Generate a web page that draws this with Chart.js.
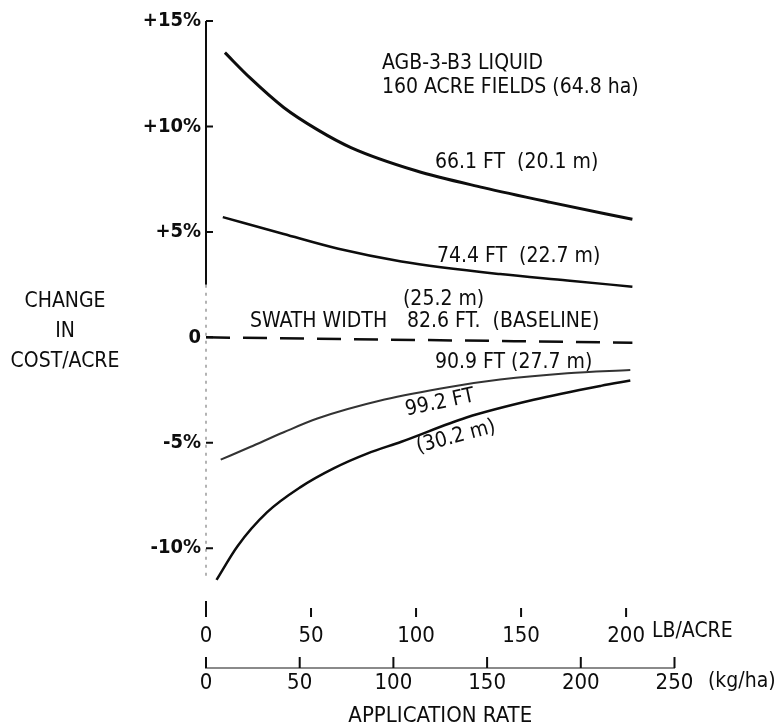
<!DOCTYPE html>
<html>
<head>
<meta charset="utf-8">
<script src="https://cdn.jsdelivr.net/npm/chart.js@4.4.0/dist/chart.umd.min.js"></script>
<style>
  html, body { margin: 0; padding: 0; background: #fff; }
  #wrap { width: 778px; height: 727px; }
</style>
</head>
<body>
<div id="wrap"><canvas id="costchart" width="778" height="727"></canvas></div>
<script>
// tick labels
const lbTicks = [0, 50, 100, 150, 200];
const kgTicks = [0, 50, 100, 150, 200, 250];
const pctTicks = [15, 10, 5, 0, -5, -10];

// series: application rate (lb/acre) vs change in cost/acre (%)
const rate661 = [9, 21, 37, 53, 69, 100, 132, 164, 203];
const cost661 = [13.5, 12.3, 10.9, 9.85, 9.0, 7.9, 7.1, 6.4, 5.6];

const rate744 = [8, 37, 63, 93, 140, 172, 203];
const cost744 = [5.7, 4.9, 4.2, 3.6, 3.0, 2.7, 2.4];

const rate826 = [0, 203];
const cost826 = [0, -0.25];

const rate909 = [7, 21, 37, 53, 85, 116, 140, 172, 202];
const cost909 = [-5.8, -5.2, -4.5, -3.85, -2.95, -2.35, -2.0, -1.7, -1.55];

const rate992 = [5, 15, 29, 45, 61, 77, 93, 124, 156, 188, 202];
const cost992 = [-11.5, -9.9, -8.3, -7.1, -6.2, -5.5, -4.95, -3.8, -2.96, -2.3, -2.05];

const KG_PER_LB = 1.12085;
const INK = '#0d0d0d';
const FONT = "'Liberation Sans Narrow', 'DejaVu Sans Condensed', sans-serif";

function pts(xs, ys) {
    return xs.map((x, i) => ({ x: x, y: ys[i] }));
}

const notes = [
    { text: 'AGB-3-B3 LIQUID', x: 382, y: 64 },
    { text: '160 ACRE FIELDS (64.8 ha)', x: 382, y: 88 },
    { text: '66.1 FT  (20.1 m)', x: 435, y: 163 },
    { text: '74.4 FT  (22.7 m)', x: 437, y: 257 },
    { text: '(25.2 m)', x: 403, y: 300 },
    { text: 'SWATH WIDTH', x: 250, y: 322 },
    { text: '82.6 FT.  (BASELINE)', x: 407, y: 322 },
    { text: '90.9 FT (27.7 m)', x: 435, y: 363 },
    { text: '99.2 FT', x: 440, y: 403, rot: -12, center: true },
    { text: '(30.2 m)', x: 456, y: 437, rot: -15, center: true },
    { text: 'CHANGE', x: 65, y: 302, center: true },
    { text: 'IN', x: 65, y: 332, center: true },
    { text: 'COST/ACRE', x: 65, y: 362, center: true },
    { text: 'LB/ACRE', x: 652, y: 632 },
    { text: '(kg/ha)', x: 708, y: 682 }
];

const annotate = {
    id: 'annotate',
    beforeDatasetsDraw(chart) {
        // cost axis: solid at the top, faint dotted lower down as in the scan
        const ctx = chart.ctx;
        const { y } = chart.scales;
        const left = chart.chartArea.left;
        const split = y.getPixelForValue(2.5);
        ctx.save();
        ctx.strokeStyle = INK;
        ctx.lineWidth = 2;
        ctx.beginPath();
        ctx.moveTo(left, y.top);
        ctx.lineTo(left, split);
        ctx.stroke();
        ctx.strokeStyle = '#9a9a9a';
        ctx.lineWidth = 1.5;
        ctx.setLineDash([3, 5]);
        ctx.beginPath();
        ctx.moveTo(left, split);
        ctx.lineTo(left, y.getPixelForValue(-11.5));
        ctx.stroke();
        ctx.restore();
    },
    afterDraw(chart) {
        const ctx = chart.ctx;
        const { x, x2, y } = chart.scales;
        const left = chart.chartArea.left;
        ctx.save();
        ctx.strokeStyle = INK;
        ctx.lineWidth = 2;
        ctx.beginPath();
        // small ticks to the right of the cost axis
        y.ticks.forEach(t => {
            const py = y.getPixelForValue(t.value);
            ctx.moveTo(left, py);
            ctx.lineTo(left + 7, py);
        });
        // lb/acre tick marks above the numbers
        x.ticks.forEach(t => {
            const px = x.getPixelForValue(t.value);
            ctx.moveTo(px, x.top + (t.value === 0 ? 0 : 7));
            ctx.lineTo(px, x.top + 16);
        });
        // kg/ha ticks standing up from the line
        x2.ticks.forEach(t => {
            const px = x2.getPixelForValue(t.value);
            ctx.moveTo(px, x2.top - 11);
            ctx.lineTo(px, x2.top);
        });
        ctx.stroke();

        ctx.fillStyle = INK;
        ctx.font = '21px ' + FONT;
        ctx.textBaseline = 'middle';
        notes.forEach(n => {
            ctx.save();
            ctx.translate(n.x, n.y);
            if (n.rot) ctx.rotate(n.rot * Math.PI / 180);
            ctx.textAlign = n.center ? 'center' : 'left';
            ctx.fillText(n.text, 0, 0);
            ctx.restore();
        });
        ctx.restore();
    }
};

const ctx = document.getElementById('costchart').getContext('2d');
const costChart = new Chart(ctx, {
    type: 'line',
    data: {
        datasets: [
            { label: '66.1 FT (20.1 m)', data: pts(rate661, cost661), borderColor: INK, borderWidth: 3 },
            { label: '74.4 FT (22.7 m)', data: pts(rate744, cost744), borderColor: INK, borderWidth: 2.5 },
            { label: '82.6 FT (25.2 m)', data: pts(rate826, cost826), borderColor: INK, borderWidth: 2.5, borderDash: [24, 13] },
            { label: '90.9 FT (27.7 m)', data: pts(rate909, cost909), borderColor: '#333', borderWidth: 2 },
            { label: '99.2 FT (30.2 m)', data: pts(rate992, cost992), borderColor: INK, borderWidth: 2.5 }
        ]
    },
    options: {
        responsive: false,
        animation: false,
        layout: { padding: { left: 0, right: 778 - 674.5, top: 21, bottom: 0 } },
        elements: {
            point: { radius: 0 },
            line: { cubicInterpolationMode: 'monotone', fill: false }
        },
        plugins: {
            legend: { display: false },
            tooltip: { enabled: false }
        },
        scales: {
            x: {
                type: 'linear',
                position: 'bottom',
                weight: 0,
                min: 0,
                max: 250 / KG_PER_LB,
                afterBuildTicks: s => { s.ticks = lbTicks.map(v => ({ value: v })); },
                afterFit: s => { s.height = 67; },
                grid: { display: false, drawTicks: false },
                border: { display: false },
                ticks: { color: INK, padding: 22, maxRotation: 0, font: { family: FONT, size: 22 } }
            },
            x2: {
                type: 'linear',
                position: 'bottom',
                weight: 1,
                min: 0,
                max: 250,
                afterBuildTicks: s => { s.ticks = kgTicks.map(v => ({ value: v })); },
                afterFit: s => { s.height = 59; },
                grid: { display: false, drawTicks: false },
                border: { display: true, color: '#8a8a8a', width: 2 },
                ticks: { color: INK, padding: 2, maxRotation: 0, font: { family: FONT, size: 22 } },
                title: {
                    display: true,
                    text: 'APPLICATION RATE',
                    color: INK,
                    padding: 0,
                    font: { family: FONT, size: 22, lineHeight: 1 }
                }
            },
            y: {
                type: 'linear',
                min: -12.5,
                max: 15,
                afterBuildTicks: s => { s.ticks = pctTicks.map(v => ({ value: v })); },
                afterFit: s => { s.width = 206; },
                grid: { display: false, drawTicks: false },
                border: { display: false },
                ticks: {
                    color: INK,
                    padding: 5,
                    font: { family: FONT, size: 20, weight: 'bold' },
                    callback: v => v > 0 ? '+' + v + '%' : (v === 0 ? '0' : v + '%')
                }
            }
        }
    },
    plugins: [annotate]
});
</script>
</body>
</html>
